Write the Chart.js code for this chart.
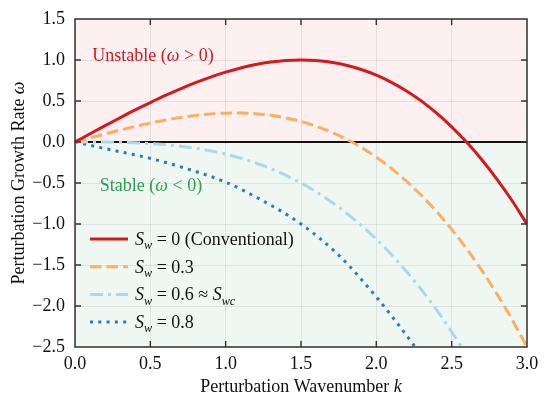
<!DOCTYPE html>
<html>
<head>
<meta charset="utf-8">
<script src="https://cdn.jsdelivr.net/npm/chart.js@4.4.1/dist/chart.umd.min.js"></script>
<style>
  html, body { margin: 0; padding: 0; background: #ffffff; }
  #wrap { width: 550px; height: 403px; }
  canvas { display: block; }
</style>
</head>
<body>
<div id="wrap"><canvas id="c" width="550" height="403"></canvas></div>
<script>
// ---------------- data ----------------
const kGrid = [0.0,0.1,0.2,0.3,0.4,0.5,0.6,0.7,0.8,0.9,1.0,1.1,1.2,1.3,1.4,1.5,1.6,1.7,1.8,1.9,2.0,2.1,2.2,2.3,2.4,2.5,2.6,2.7,2.8,2.9,3.0];
const omegaSw0  = [0,0.100,0.199,0.296,0.391,0.481,0.568,0.649,0.724,0.792,0.852,0.903,0.944,0.975,0.994,1.000,0.993,0.972,0.936,0.884,0.815,0.728,0.623,0.498,0.352,0.185,-0.004,-0.216,-0.452,-0.713,-1.000];
const omegaSw03 = [0,0.050,0.099,0.146,0.191,0.231,0.268,0.299,0.324,0.342,0.352,0.353,0.344,0.325,0.294,0.250,0.193,0.122,0.036,-0.066,-0.185,-0.322,-0.478,-0.653,-0.848,-1.065,-1.304,-1.566,-1.852,-2.163,-2.500];
const omegaSw06 = [0,-0.000,-0.001,-0.004,-0.009,-0.019,-0.032,-0.051,-0.076,-0.108,-0.148,-0.197,-0.256,-0.326,-0.407,-0.500,-0.607,-0.728,-0.864,-1.016,-1.185,-1.372,-1.578,-1.803,-2.048,-2.315,-2.604,null,null,null,null];
const kDot      = [0.0,0.25,0.5,0.75,1.0,1.25,1.5,1.75,2.0,2.25,2.35];
const omegaSw08 = [0,-0.10,-0.20,-0.33,-0.49,-0.72,-1.00,-1.38,-1.89,-2.48,-2.74];

const seriesNames = ['Sw = 0 (Conventional)', 'Sw = 0.3', 'Sw = 0.6 ≈ Swc', 'Sw = 0.8'];
const xTickLabels = ['0.0','0.5','1.0','1.5','2.0','2.5','3.0'];
const yTickLabels = ['\u22122.5','\u22122.0','\u22121.5','\u22121.0','\u22120.5','0.0','0.5','1.0','1.5'];

// rich-text pieces (i = italic, sub = subscript)
const legendRich = [
  [{t:'S',i:1},{t:'w',i:1,sub:1},{t:' = 0 (Conventional)'}],
  [{t:'S',i:1},{t:'w',i:1,sub:1},{t:' = 0.3'}],
  [{t:'S',i:1},{t:'w',i:1,sub:1},{t:' = 0.6 \u2248 '},{t:'S',i:1},{t:'wc',i:1,sub:1}],
  [{t:'S',i:1},{t:'w',i:1,sub:1},{t:' = 0.8'}]
];
const xTitleRich = [{t:'Perturbation Wavenumber '},{t:'k',i:1}];
const yTitleRich = [{t:'Perturbation Growth Rate '},{t:'\u03c9',i:1}];
const unstableRich = [{t:'Unstable ('},{t:'\u03c9',i:1},{t:' > 0)'}];
const stableRich   = [{t:'Stable ('},{t:'\u03c9',i:1},{t:' < 0)'}];
const unstableAt = {k:0.115, w:0.99};
const stableAt   = {k:0.165, w:-0.60};

// ---------------- styles ----------------
const COLORS = ['#d7191c', '#fdae61', '#abd9e9', '#2c7bb6'];
const DASHES = [[], [11.5,5], [13,5,3,5], [3,5.3]];
const WIDTHS = [3, 3, 3, 3];
const FONT = '"Liberation Serif", "Times New Roman", serif';

function pts(xs, ys) {
  const out = [];
  for (let i = 0; i < xs.length; i++) if (ys[i] !== null) out.push({x: xs[i], y: ys[i]});
  return out;
}

function richWidth(ctx, parts, size) {
  let w = 0;
  for (const p of parts) {
    const s = p.sub ? size * 0.68 : size;
    ctx.font = (p.i ? 'italic ' : '') + s + 'px ' + FONT;
    w += ctx.measureText(p.t).width;
  }
  return w;
}
function drawRich(ctx, parts, x, y, size, color) {
  ctx.fillStyle = color;
  ctx.textAlign = 'left';
  ctx.textBaseline = 'alphabetic';
  let cx = x;
  for (const p of parts) {
    const s = p.sub ? size * 0.68 : size;
    ctx.font = (p.i ? 'italic ' : '') + s + 'px ' + FONT;
    ctx.fillText(p.t, cx, y + (p.sub ? size * 0.24 : 0));
    cx += ctx.measureText(p.t).width;
  }
}

const decor = {
  id: 'decor',
  beforeDraw(chart) {
    const {ctx, chartArea: a, scales: {y}} = chart;
    const y0 = y.getPixelForValue(0);
    ctx.save();
    ctx.fillStyle = '#fcf0f0';
    ctx.fillRect(a.left, a.top, a.right - a.left, y0 - a.top);
    ctx.fillStyle = '#eff7f3';
    ctx.fillRect(a.left, y0, a.right - a.left, a.bottom - y0);
    ctx.restore();
  },
  beforeDatasetsDraw(chart) {
    const {ctx, chartArea: a, scales: {y}} = chart;
    const y0 = y.getPixelForValue(0);
    ctx.save();
    ctx.strokeStyle = '#111';
    ctx.lineWidth = 2;
    ctx.beginPath(); ctx.moveTo(a.left, y0); ctx.lineTo(a.right, y0); ctx.stroke();
    ctx.restore();
  },
  afterDatasetsDraw(chart) {
    const {ctx, chartArea: a, scales: {x, y}} = chart;
    ctx.save();
    // frame
    ctx.strokeStyle = '#333';
    ctx.lineWidth = 1.5;
    ctx.strokeRect(a.left, a.top, a.right - a.left, a.bottom - a.top);
    // inward ticks, all four sides
    const TL = 6;
    ctx.lineWidth = 1.4;
    ctx.beginPath();
    x.ticks.forEach(t => {
      const px = x.getPixelForValue(t.value);
      if (px <= a.left + 1 || px >= a.right - 1) return;
      ctx.moveTo(px, a.bottom); ctx.lineTo(px, a.bottom - TL);
      ctx.moveTo(px, a.top); ctx.lineTo(px, a.top + TL);
    });
    y.ticks.forEach(t => {
      const py = y.getPixelForValue(t.value);
      if (py <= a.top + 1 || py >= a.bottom - 1) return;
      ctx.moveTo(a.left, py); ctx.lineTo(a.left + TL, py);
      ctx.moveTo(a.right, py); ctx.lineTo(a.right - TL, py);
    });
    ctx.stroke();

    // region annotations
    drawRich(ctx, unstableRich, x.getPixelForValue(unstableAt.k), y.getPixelForValue(unstableAt.w), 18, '#d7191c');
    drawRich(ctx, stableRich, x.getPixelForValue(stableAt.k), y.getPixelForValue(stableAt.w), 18, '#2e9e4f');

    // legend
    const lx0 = a.left + 15, lx1 = a.left + 53, tx = a.left + 60;
    const rowY0 = a.bottom - 108, rowDy = 27.7;
    legendRich.forEach((parts, i) => {
      const cy = rowY0 + i * rowDy;
      ctx.save();
      ctx.strokeStyle = COLORS[i];
      ctx.lineWidth = WIDTHS[i];
      ctx.setLineDash(DASHES[i]);
      ctx.beginPath(); ctx.moveTo(lx0, cy); ctx.lineTo(lx1, cy); ctx.stroke();
      ctx.restore();
      drawRich(ctx, parts, tx, cy + 6, 18, '#111');
    });

    // axis titles
    const xw = richWidth(ctx, xTitleRich, 18);
    drawRich(ctx, xTitleRich, (a.left + a.right) / 2 - xw / 2, 392, 18, '#111');
    const yw = richWidth(ctx, yTitleRich, 18);
    ctx.save();
    ctx.translate(24, (a.top + a.bottom) / 2);
    ctx.rotate(-Math.PI / 2);
    drawRich(ctx, yTitleRich, -yw / 2, 0, 18, '#111');
    ctx.restore();
    ctx.restore();
  }
};

const datasets = [
  pts(kGrid, omegaSw0), pts(kGrid, omegaSw03), pts(kGrid, omegaSw06), pts(kDot, omegaSw08)
].map((d, i) => ({
  label: seriesNames[i],
  data: d,
  borderColor: COLORS[i],
  borderWidth: WIDTHS[i],
  borderDash: DASHES[i],
  borderCapStyle: 'butt',
  pointRadius: 0,
  fill: false,
  tension: 0,
  cubicInterpolationMode: 'monotone'
}));

new Chart(document.getElementById('c'), {
  type: 'line',
  data: { datasets },
  options: {
    responsive: false,
    animation: false,
    devicePixelRatio: 1,
    layout: { padding: { top: 18, right: 23, left: 0, bottom: 0 } },
    plugins: { legend: { display: false }, tooltip: { enabled: false } },
    scales: {
      x: {
        type: 'linear', min: 0, max: 3,
        border: { display: false },
        grid: { color: 'rgba(0,0,0,0.08)', lineWidth: 1, drawTicks: false },
        ticks: {
          stepSize: 0.5, padding: 6, color: '#111',
          font: { family: FONT, size: 18 },
          callback: (v, i) => xTickLabels[i]
        },
        afterFit: s => { s.height = 56; }
      },
      y: {
        type: 'linear', min: -2.5, max: 1.5,
        border: { display: false },
        grid: { color: 'rgba(0,0,0,0.08)', lineWidth: 1, drawTicks: false },
        ticks: {
          stepSize: 0.5, padding: 10, color: '#111',
          font: { family: FONT, size: 18, lineHeight: 1 },
          callback: (v, i) => yTickLabels[i]
        },
        afterFit: s => { s.width = 75; }
      }
    }
  },
  plugins: [decor]
});
</script>
</body>
</html>
